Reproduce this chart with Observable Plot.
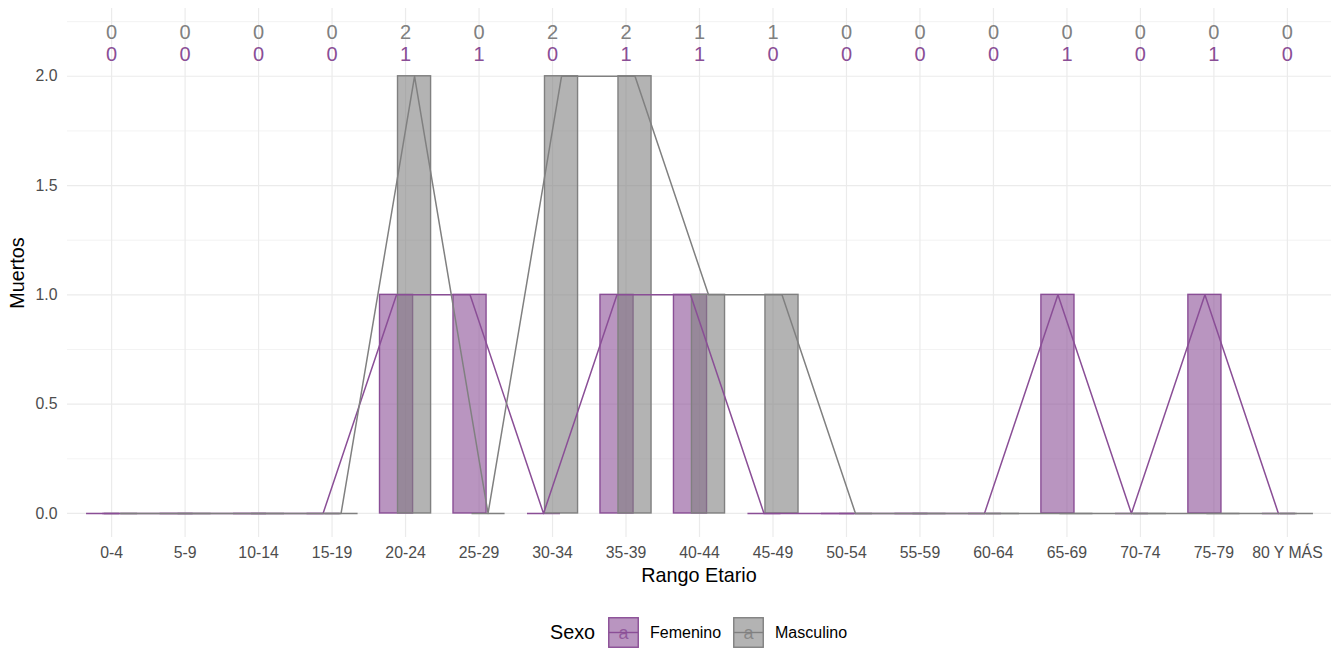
<!DOCTYPE html>
<html><head><meta charset="utf-8">
<script src="https://cdn.jsdelivr.net/npm/d3@7"></script>
<script src="https://cdn.jsdelivr.net/npm/@observablehq/plot@0.6"></script>
<style>
body{margin:0;background:#fff;font-family:"Liberation Sans",Arial,sans-serif;}
#wrap{position:relative;width:1338px;height:648px;overflow:hidden;}
#chart{position:absolute;left:0;top:0;}
#legend{position:absolute;left:0;top:600px;width:1338px;height:48px;}
#legend .it{position:absolute;white-space:nowrap;line-height:1;}
</style></head><body><div id="wrap"><div id="chart"></div><div id="legend"></div></div>
<script>
// ---- data ----
const categorias = ["0-4","5-9","10-14","15-19","20-24","25-29","30-34","35-39","40-44","45-49","50-54","55-59","60-64","65-69","70-74","75-79","80 Y MÁS"];
const femenino  = [0,0,0,0,1,1,0,1,1,0,0,0,0,1,0,1,0];
const masculino = [0,0,0,0,2,0,2,2,1,1,0,0,0,0,0,0,0];
const sexos = ["Femenino","Masculino"];
const yTicks = [0, 0.5, 1, 1.5, 2];
const yMinor = [0.25, 0.75, 1.25, 1.75, 2.25];

const colores = {Femenino: "#8A4E96", Masculino: "#808080"};
const dodge = {Femenino: -0.1225, Masculino: 0.1225};
const barW = 0.45;

const rows = [];
sexos.forEach(s => {
  const vals = s === "Femenino" ? femenino : masculino;
  categorias.forEach((c, i) => rows.push({i, cat: c, sexo: s, v: vals[i], xc: i + dodge[s]}));
});
const fem = rows.filter(d => d.sexo === "Femenino");
const mas = rows.filter(d => d.sexo === "Masculino");

function barMarks(data, col) {
  return [
    Plot.rectY(data.filter(d => d.v > 0), {x1: d => d.xc - barW/2, x2: d => d.xc + barW/2, y1: 0, y2: "v",
      fill: col, fillOpacity: 0.6, stroke: col, strokeWidth: 1.4}),
    Plot.link(data.filter(d => d.v === 0), {x1: d => d.xc - barW/2, x2: d => d.xc + barW/2, y1: 0, y2: 0,
      stroke: col, strokeWidth: 1.4})
  ];
}

const grid = "#ebebeb";
const plot = Plot.plot({
  width: 1338, height: 600,
  marginLeft: 67, marginRight: 7, marginTop: 8, marginBottom: 63,
  style: {fontFamily: '"Liberation Sans", Arial, sans-serif', fontSize: "15.8px", background: "#fff"},
  x: {type: "linear", domain: [-0.6, 16.6]},
  y: {domain: [-0.11, 2.31]},
  marks: [
    Plot.ruleY(yMinor, {stroke: grid, strokeWidth: 0.6}),
    Plot.ruleY(yTicks, {stroke: grid, strokeWidth: 1.2}),
    Plot.ruleX(d3.range(categorias.length), {stroke: grid, strokeWidth: 1.2}),
    Plot.axisY({ticks: yTicks, tickSize: 0, tickPadding: 10, tickFormat: d => d.toFixed(1), fill: "#4d4d4d", label: null, fontSize: 15.8}),
    Plot.axisX({ticks: d3.range(categorias.length), tickSize: 0, tickPadding: 9.5, tickFormat: i => categorias[i], fill: "#4d4d4d", label: null, fontSize: 15.8}),
    ...barMarks(fem, colores.Femenino),
    ...barMarks(mas, colores.Masculino),
    Plot.line(fem, {x: "xc", y: "v", stroke: colores.Femenino, strokeWidth: 1.5}),
    Plot.line(mas, {x: "xc", y: "v", stroke: colores.Masculino, strokeWidth: 1.5}),
    Plot.text(mas, {x: "i", y: 2.2, text: d => String(d.v), fill: colores.Masculino, fontSize: 20}),
    Plot.text(fem, {x: "i", y: 2.1, text: d => String(d.v), fill: colores.Femenino, fontSize: 20})
  ]
});
document.getElementById("chart").appendChild(plot);

const svg = d3.select(plot);
svg.append("text").attr("x", 699).attr("y", 582).attr("text-anchor", "middle")
  .attr("font-size", 19.8).attr("fill", "#000").text("Rango Etario");
svg.append("text").attr("transform", "translate(24,273) rotate(-90)").attr("text-anchor", "middle")
  .attr("font-size", 19.8).attr("fill", "#000").text("Muertos");

// ---- legend ----
const lg = document.getElementById("legend");
function item(html, left, top) {
  const d = document.createElement("div");
  d.className = "it"; d.style.left = left + "px"; d.style.top = top + "px"; d.innerHTML = html; lg.appendChild(d);
}
item('<span style="font-size:19.8px;color:#000">Sexo</span>', 550, 23);
function key(col) {
  return `<svg width="31" height="31" style="display:block"><rect x="0.75" y="0.75" width="29.5" height="29.5" fill="${col}" fill-opacity="0.6" stroke="${col}" stroke-width="1.4"/>` +
    `<line x1="1" x2="30" y1="15.5" y2="15.5" stroke="${col}" stroke-width="1.4"/>` +
    `<text x="15.5" y="21.5" text-anchor="middle" font-size="18" fill="${col}" fill-opacity="0.85" font-family="Liberation Sans, Arial">a</text></svg>`;
}
item(key(colores.Femenino), 608, 17);
item('<span style="font-size:16px;color:#000">Femenino</span>', 650, 25);
item(key(colores.Masculino), 733, 17);
item('<span style="font-size:16px;color:#000">Masculino</span>', 775, 25);
</script></body></html>
